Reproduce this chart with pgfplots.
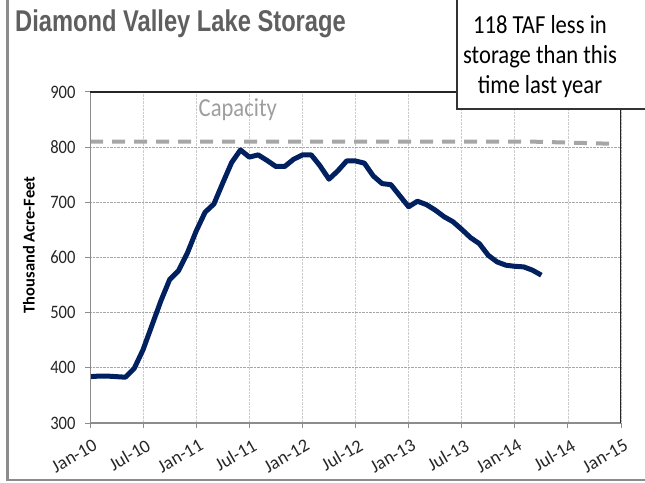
\documentclass[border=0pt]{standalone}
\usepackage{fontspec}
\setmainfont{Carlito}[FakeStretch=0.87]
\newfontfamily\titlefont{Liberation Sans}[FakeStretch=0.79]
\newfontfamily\labelfont{Carlito}
\usepackage{pgfplots}
\pgfplotsset{compat=1.18}
\definecolor{navy}{HTML}{002060}
\definecolor{capgrey}{HTML}{A6A6A6}
\definecolor{titlegrey}{HTML}{5F5F5F}
\definecolor{framegrey}{HTML}{8C8C8C}

\begin{document}
\begin{tikzpicture}[x=1pt,y=1pt]
\useasboundingbox (0,0) rectangle (645,482);
\begin{scope}
\clip (0,0) rectangle (645,482);
\begin{axis}[
  at={(90pt,59pt)}, anchor=south west,
  width=531pt, height=331pt, scale only axis,
  xmin=0, xmax=60, ymin=300, ymax=900,
  axis line style={draw=none},
  xtick={0,6,...,60},
  xticklabels={Jan-10,Jul-10,Jan-11,Jul-11,Jan-12,Jul-12,Jan-13,Jul-13,Jan-14,Jul-14,Jan-15},
  ytick={300,400,...,900},
  xtick pos=left, ytick pos=left,
  tick align=outside, major tick length=5pt,
  tick style={framegrey, line width=1pt},
  grid=major,
  major x grid style={densely dotted, gray!40, line width=0.8pt},
  major y grid style={densely dotted, gray!70, line width=0.8pt},
  tick label style={font=\fontsize{19}{22}\selectfont, text=black!85},
  /pgf/number format/assume math mode=true,
  yticklabel style={xshift=-6pt},
  xticklabel style={font=\labelfont\fontsize{18.5}{22}\selectfont, rotate=30, anchor=north east, inner sep=1pt, yshift=-9pt, xshift=-2pt},
]
\addplot[capgrey, line width=4pt, dash pattern=on 13pt off 9pt] coordinates {(0,810)(50,810)(59.4,806)};
\addplot[navy, line width=5pt, line join=round] coordinates {
(0,384)(1,385)(2,385)(3,384)(4,383)(5,399)(6,433)(7,477)(8,521)(9,560)(10,576)(11,608)
(12,648)(13,682)(14,697)(15,735)(16,772)(17,795)(18,782)(19,786)(20,776)(21,765)(22,765)(23,778)
(24,786)(25,786)(26,766)(27,742)(28,757)(29,775)(30,775)(31,771)(32,748)(33,734)(34,732)(35,712)
(36,692)(37,702)(38,696)(39,686)(40,674)(41,665)(42,651)(43,636)(44,625)(45,604)(46,592)(47,586)
(48,584)(49,583)(50,577)(51,568)};
\node[text=capgrey!95!black, font=\fontsize{26}{30}\selectfont] at (axis cs:16.7,868) {Capacity};
\draw[framegrey, line width=2pt] (rel axis cs:0,1) -- (rel axis cs:0,0) -- (rel axis cs:1,0);
\draw[black!85, line width=1.2pt] (rel axis cs:0,1) -- (rel axis cs:1,1) -- (rel axis cs:1,0);
\end{axis}
\draw[fill=white, draw=black!80, line width=1.2pt] (457,373) rectangle (660,500);
\node[align=center, font=\fontsize{26}{30}\selectfont] at (540,425) {118 TAF less in\\storage than this\\time last year};
\node[anchor=base west, inner sep=0pt, text=titlegrey, font=\titlefont\bfseries\fontsize{30}{34}\selectfont] at (15,450) {Diamond Valley Lake Storage};
\node[rotate=90, font=\labelfont\bfseries\fontsize{16.5}{19}\selectfont] at (29,237) {Thousand Acre-Feet};
\draw[framegrey, line width=2.5pt] (7.5,490) -- (7.5,2) -- (660,2);
\end{scope}
\end{tikzpicture}
\end{document}
